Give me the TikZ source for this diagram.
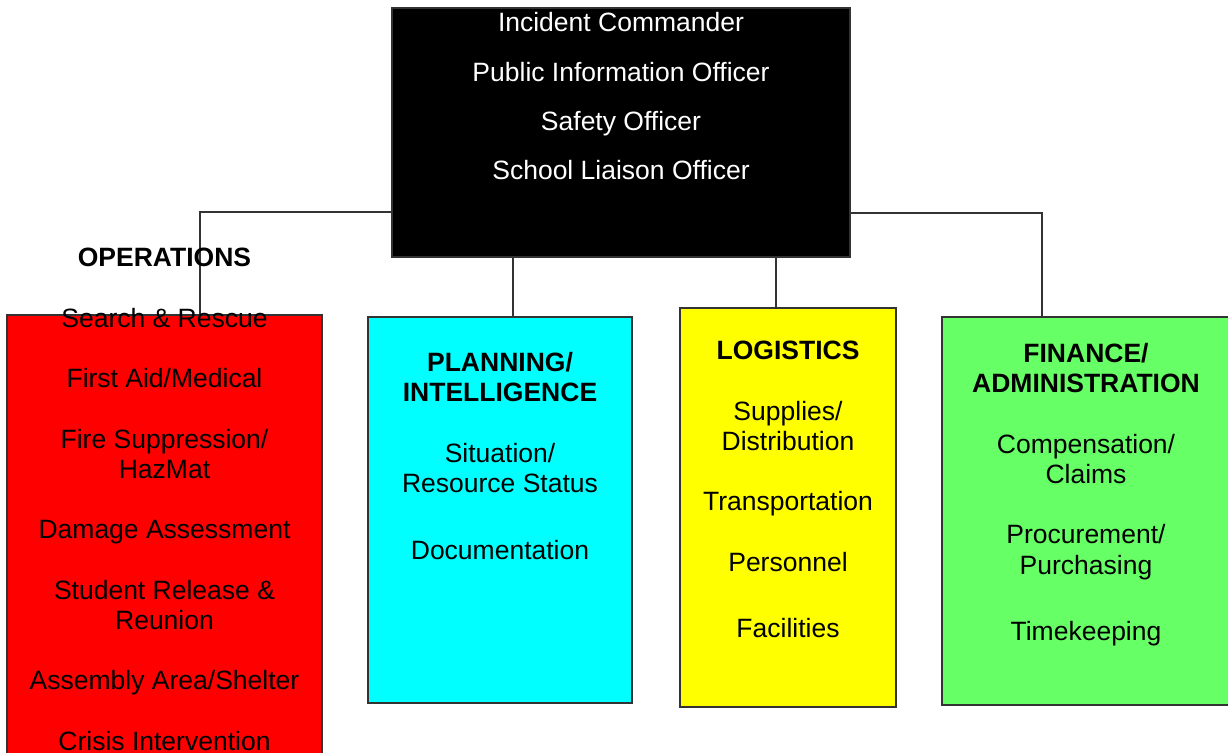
\documentclass[tikz,border=0pt]{standalone}
\usepackage{fontspec}
\setmainfont{Liberation Sans}
\definecolor{opsRed}{RGB}{255,0,0}
\definecolor{planCyan}{RGB}{0,255,255}
\definecolor{logiYellow}{RGB}{255,255,0}
\definecolor{finGreen}{RGB}{102,255,102}

\begin{document}
\begin{tikzpicture}
[x=0.5pt,y=-0.5pt,
box/.style={rectangle, draw=black!80, line width=0.7pt, inner sep=0pt},
link/.style={draw=black!80, line width=0.7pt},
label text/.style={anchor=north, inner sep=0pt, align=center, font={\fontsize{13.25}{15.1}\selectfont}}]
\useasboundingbox (0,0) rectangle (1228,752);
    % boxes
    \node[box, fill=black, minimum width=229pt, minimum height=124.5pt] (cmd) at (621,132.5) {};
    \node[box, fill=opsRed, minimum width=157.5pt, minimum height=227.5pt] (ops) at (164.5,542.5) {};
    \node[box, fill=planCyan, minimum width=132pt, minimum height=193pt] (plan) at (500,510) {};
    \node[box, fill=logiYellow, minimum width=108pt, minimum height=199.5pt] (logi) at (788,507.5) {};
    \node[box, fill=finGreen, minimum width=145pt, minimum height=194pt] (fin) at (1087,511) {};
    % links
    \draw[link] (cmd.west |- 0,212) -| (200,0 |- ops.north);
    \draw[link] (513,0 |- cmd.south) -- (513,0 |- plan.north);
    \draw[link] (776,0 |- cmd.south) -- (776,0 |- logi.north);
    \draw[link] (cmd.east |- 0,213) -| (1042,0 |- fin.north);
    % texts
    \node[label text, text=white, font={\fontsize{13.25}{24.7}\selectfont}] (cmd text) at (621,12) {Incident Commander\\Public Information Officer\\Safety Officer\\School Liaison Officer};
    \node[label text] (ops text) at (164.5,248) {\textbf{OPERATIONS}\\[15.1pt]Search \& Rescue\\[15.1pt]First Aid/Medical\\[15.1pt]Fire Suppression/\\HazMat\\[15.1pt]Damage Assessment\\[15.1pt]Student Release \&\\Reunion\\[15.1pt]Assembly Area/Shelter\\[15.1pt]Crisis Intervention};
    \node[label text] (plan text) at (500,352) {\textbf{PLANNING/}\\\textbf{INTELLIGENCE}\\[15.1pt]Situation/\\Resource Status\\[18.5pt]Documentation};
    \node[label text] (logi text) at (788,341) {\textbf{LOGISTICS}\\[15.1pt]Supplies/\\Distribution\\[15.1pt]Transportation\\[15.1pt]Personnel\\[18pt]Facilities};
    \node[label text] (fin text) at (1086,343) {\textbf{FINANCE/}\\\textbf{ADMINISTRATION}\\[15.1pt]Compensation/\\Claims\\[15.1pt]Procurement/\\Purchasing\\[18pt]Timekeeping};
\end{tikzpicture}
\end{document}
